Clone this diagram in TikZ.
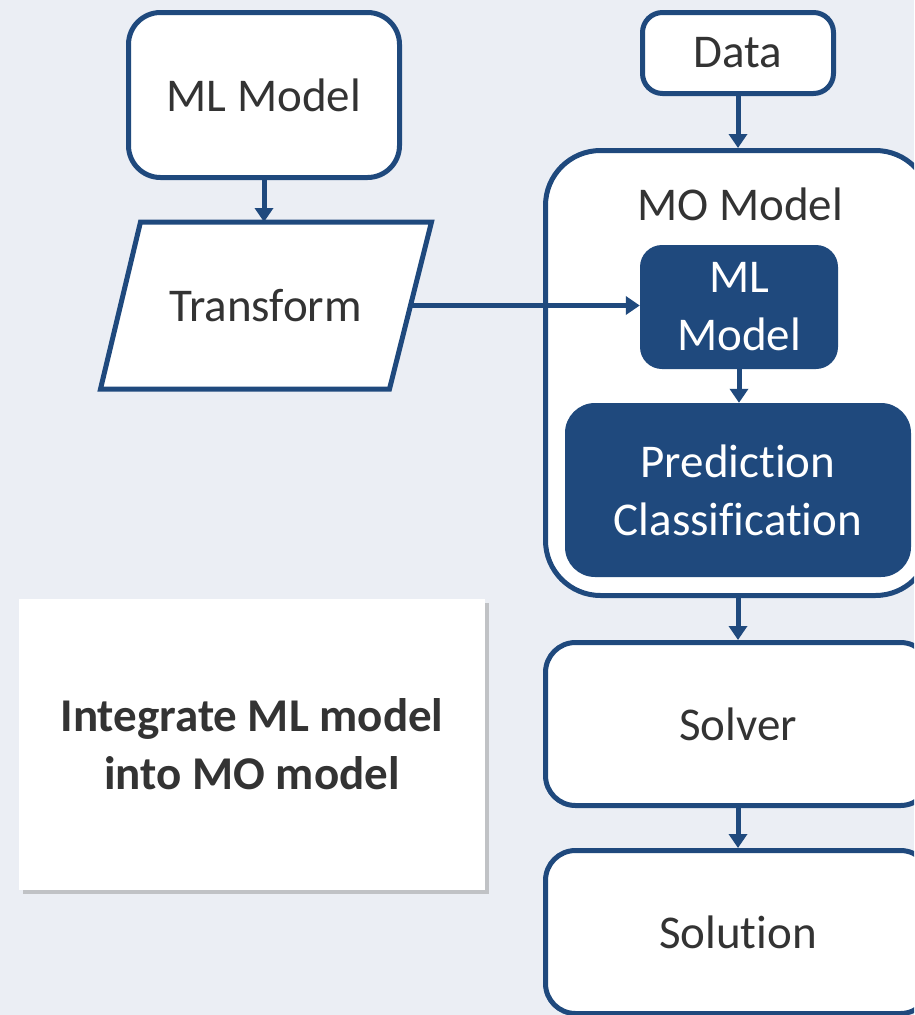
\documentclass[tikz,border=0pt]{standalone}
\usepackage{fontspec}
\setmainfont{Carlito}[RawFeature={-liga;-clig;-dlig;-rlig;-calt}]
\usepackage{xcolor}
\usepackage{tikz}
\usetikzlibrary{arrows.meta,shadows}

\definecolor{navy}{HTML}{1F497D}
\definecolor{paper}{HTML}{EBEEF4}
\definecolor{ink}{HTML}{333333}

\tikzset{
  box/.style={draw=navy, line width=5pt, fill=white, rounded corners=#1, text=ink, align=center, inner sep=0pt},
  box/.default=30pt,
  dark/.style={fill=navy, rounded corners=#1, text=white, align=center, inner sep=0pt},
  link/.style={navy, line width=5pt, -{Triangle[length=14pt,width=18pt]}},
  big/.style={font=\fontsize{47}{58}\selectfont}
}

\begin{document}
\begin{tikzpicture}[x=1pt, y=-1pt, big]

        % Canvas
        \clip (0,0) rectangle (914,1015);
        \fill[paper] (0,0) rectangle (914,1015);

        % Left column: ML model and its transformation
        \node[box=32pt, minimum width=271pt, minimum height=165pt] (mlm) at (264,95) {ML Model};
        \node[minimum width=285pt, minimum height=162pt, inner sep=0pt, outer sep=2.5pt] (trans) at (265.5,305.5) {};
        \draw[navy, line width=5pt, fill=white, line join=miter]
          ([shift={(-20,0)}]trans.south west) -- ([shift={(20,0)}]trans.north west)
          -- ([shift={(21,0)}]trans.north east) -- ([shift={(-21,0)}]trans.south east) -- cycle;
        \node[text=ink] at (trans.center) {Transform};

        % Summary card
        \node[fill=white, drop shadow={shadow xshift=4pt, shadow yshift=-4pt, opacity=0.4},
              minimum width=466pt, minimum height=291pt, text=ink, align=center,
              font=\bfseries\fontsize{47}{58}\selectfont] (intg) at (252,744.5) {Integrate ML model\\into MO model};

        % Right column: data, MO model, solver
        \node[box=20pt, minimum width=191pt, minimum height=81pt] (data) at (738,53) {Data};
        \node[box=55pt, minimum width=385pt, minimum height=445pt] (mo) at (738,373) {};
        \node[text=ink, anchor=base] (motitle) at (740,220) {MO Model};
        \node[dark=22pt, minimum width=198pt, minimum height=124pt] (inml) at (739,307) {ML\\Model};
        \node[dark=30pt, minimum width=346pt, minimum height=174pt] (pred) at (738,490) {Prediction\\Classification};
        \node[box=30pt, minimum width=385pt, minimum height=163pt] (solver) at (738,724) {Solver};
        \node[box=30pt, minimum width=385pt, minimum height=163pt] (sol) at (738,932) {Solution};

        % Arrows
        \draw[link] (mlm.south) -- (mlm.south |- trans.north);
        \draw[link] (trans.east) -- (trans.east -| inml.west);
        \draw[link] (data) -- (mo);
        \draw[link] (inml.south) -- (inml.south |- pred.north);
        \draw[link] (mo) -- (solver);
        \draw[link] (solver) -- (sol);

\end{tikzpicture}
\end{document}
